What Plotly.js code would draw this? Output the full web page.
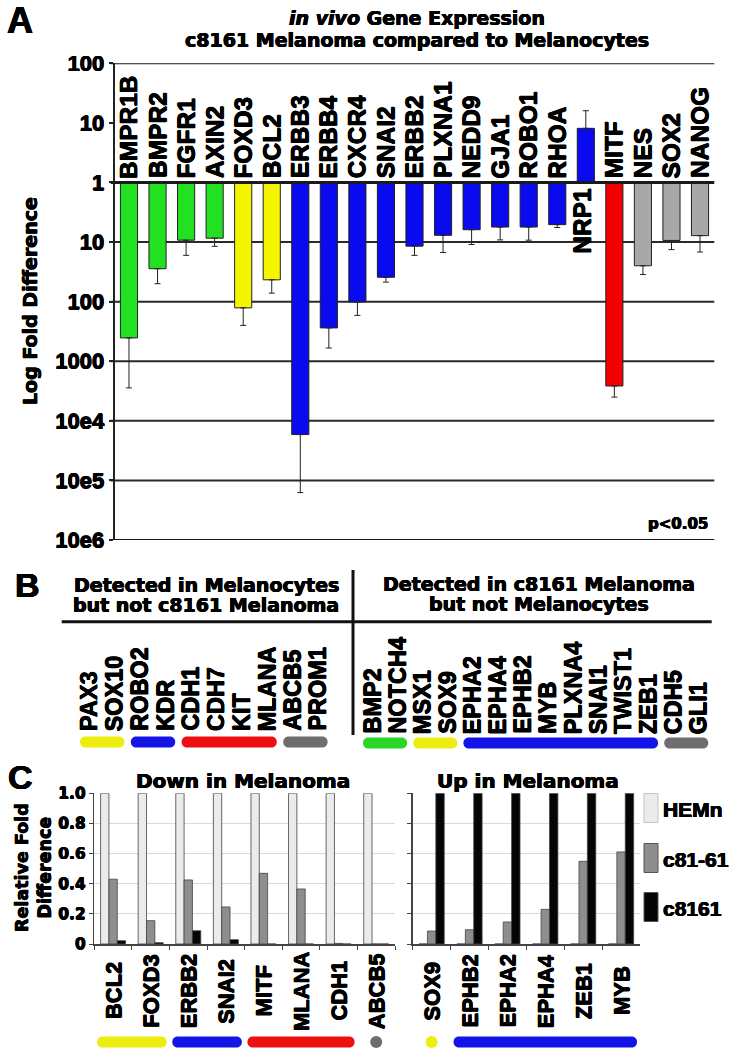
<!DOCTYPE html>
<html>
<head>
<meta charset="utf-8">
<script src="https://cdn.plot.ly/plotly-3.0.1.min.js"></script>
<style>
  html, body { margin: 0; padding: 0; background: #fff; }
  #chart { width: 730px; height: 1050px; }
</style>
</head>
<body>
<div id="chart"></div>
<script>
// panel A: in vivo expression, c8161 vs melanocytes (negative = lower in melanoma)
const genesA = ['BMPR1B', 'BMPR2', 'FGFR1', 'AXIN2', 'FOXD3', 'BCL2', 'ERBB3', 'ERBB4', 'CXCR4', 'SNAI2',
  'ERBB2', 'PLXNA1', 'NEDD9', 'GJA1', 'ROBO1', 'RHOA', 'NRP1', 'MITF', 'NES', 'SOX2', 'NANOG'];
const groupA = [0, 0, 0, 0, 1, 1, 2, 2, 2, 2, 2, 2, 2, 2, 2, 2, 2, 3, 4, 4, 4];
const foldA = [-406, -28, -9.3, -8.6, -127, -43, -17000, -276, -101, -39,
  -11.7, -7.7, -6.2, -5.6, -5.6, -5.1, 8.1, -2600, -25, -9.4, -7.8];
const errTipA = [2800, 50, 16.7, 11.8, 250, 72, 160000, 600, 170, 47,
  16.7, 15, 11, 9.2, 9.3, 5.7, 16, 4000, 35, 13.4, 14.7];
const tickValsA = [1e-6, 1e-5, 1e-4, 1e-3, 1e-2, 1e-1, 1, 10, 100];
const tickTextA = ['10e6', '10e5', '10e4', '1000', '100', '10', '1', '10', '100'];

// panel B: genes detected in only one of the two cell types
const genesMelanocyteOnly = ['PAX3', 'SOX10', 'ROBO2', 'KDR', 'CDH1', 'CDH7', 'KIT', 'MLANA', 'ABCB5', 'PROM1'];
const groupMelanocyteOnly = [1, 1, 2, 2, 3, 3, 3, 3, 4, 4];
const genesMelanomaOnly = ['BMP2', 'NOTCH4', 'MSX1', 'SOX9', 'EPHA2', 'EPHA4', 'EPHB2', 'MYB', 'PLXNA4',
  'SNAI1', 'TWIST1', 'ZEB1', 'CDH5', 'GLI1'];
const groupMelanomaOnly = [0, 0, 1, 1, 2, 2, 2, 2, 2, 2, 2, 2, 4, 4];

// panel C: relative fold difference
const genesDown = ['BCL2', 'FOXD3', 'ERBB2', 'SNAI2', 'MITF', 'MLANA', 'CDH1', 'ABCB5'];
const groupDown = [1, 1, 2, 2, 3, 3, 3, 4];
const hemnDown = [1, 1, 1, 1, 1, 1, 1, 1];
const c8161bDown = [0.43, 0.155, 0.425, 0.246, 0.469, 0.365, 0.004, 0];
const c8161Down = [0.022, 0.009, 0.088, 0.029, 0, 0, 0, 0];
const genesUp = ['SOX9', 'EPHB2', 'EPHA2', 'EPHA4', 'ZEB1', 'MYB'];
const groupUp = [1, 2, 2, 2, 2, 2];
const hemnUp = [0, 0, 0, 0, 0, 0];
const c8161bUp = [0.086, 0.095, 0.146, 0.23, 0.549, 0.611];
const c8161Up = [1, 1, 1, 1, 1, 1];
const seriesNames = ['HEMn', 'c81-61', 'c8161'];

const W = 730, H = 1050;
const px = x => x / W;
const py = y => 1 - y / H;

const palette = ['#22e022', '#f5f500', '#0a0aee', '#f20000', '#a8a8a8'];
const pillPalette = ['#2ad62a', '#eded10', '#1414e6', '#ee1010', '#6e6e6e'];
const seriesColors = ['#ebebeb', '#8e8e8e', '#050505'];
const TXT = 'DejaVu Sans, Liberation Sans, Arial, sans-serif';
const ARIAL = 'Liberation Sans, Arial, sans-serif';
// a thin shadow makes the bold face a bit heavier, like the original artwork
const HEAVY = '0.45px 0 0 #000, -0.45px 0 0 #000, 0 0.45px 0 #000, 0 -0.45px 0 #000';
const bold = (size, family) => ({ family: family || TXT, size: size, color: '#000', weight: 'bold', shadow: HEAVY });

// plot areas (pixels)
const aLeft = 114.7, aRight = 714.3, aTop = 63.3, aBottom = 540;
const cTop = 793.3, cBottom = 944;
const cLeft1 = 94.3, cRight1 = 395, cLeft2 = 412.7, cRight2 = 640;

const ratioA = foldA.map(f => (f > 0 ? f : -1 / f));
const tipA = foldA.map((f, i) => (f > 0 ? errTipA[i] : 1 / errTipA[i]));

const traces = [{
  type: 'bar',
  x: genesA,
  y: ratioA.map(r => r - 1),
  base: 1,
  width: 0.6,
  marker: { color: groupA.map(g => palette[g]), line: { color: '#222', width: 1 } },
  error_y: {
    type: 'data', symmetric: false,
    array: ratioA.map((r, i) => Math.max(tipA[i] - r, 0)),
    arrayminus: ratioA.map((r, i) => Math.max(r - tipA[i], 0)),
    thickness: 1, width: 3, color: '#222',
  },
  xaxis: 'x', yaxis: 'y', hoverinfo: 'x',
}];

const downSeries = [hemnDown, c8161bDown, c8161Down];
const upSeries = [hemnUp, c8161bUp, c8161Up];
downSeries.forEach((vals, k) => traces.push({
  type: 'bar', name: seriesNames[k], x: genesDown, y: vals,
  marker: { color: seriesColors[k], line: { color: '#444', width: 0.8 } },
  xaxis: 'x2', yaxis: 'y2', showlegend: false,
}));
upSeries.forEach((vals, k) => traces.push({
  type: 'bar', name: seriesNames[k], x: genesUp, y: vals,
  marker: { color: seriesColors[k], line: { color: '#444', width: 0.8 } },
  xaxis: 'x3', yaxis: 'y3', showlegend: false,
}));

const annotations = [];
const shapes = [];
const note = (text, x, y, font, extra) => annotations.push(Object.assign({
  text: text, x: px(x), y: py(y), xref: 'paper', yref: 'paper', showarrow: false, font: font,
  xanchor: 'center', yanchor: 'middle',
}, extra || {}));

// rounded bar used as a pathway key
const pill = (xa, xb, yc, r, color) => {
  const k = r * 4 / 3, a = xa + r, b = xb - r;
  shapes.push({
    type: 'path', xref: 'paper', yref: 'paper', fillcolor: color, line: { width: 0 },
    path: `M${px(a)},${py(yc - r)} L${px(b)},${py(yc - r)} ` +
      `C${px(b + k)},${py(yc - r)} ${px(b + k)},${py(yc + r)} ${px(b)},${py(yc + r)} ` +
      `L${px(a)},${py(yc + r)} C${px(a - k)},${py(yc + r)} ${px(a - k)},${py(yc - r)} ${px(a)},${py(yc - r)} Z`,
  });
};
const ball = (xc, yc, r, color) => shapes.push({
  type: 'circle', xref: 'paper', yref: 'paper', fillcolor: color, line: { width: 0 },
  x0: px(xc - r), x1: px(xc + r), y0: py(yc + r), y1: py(yc - r),
});
// walk runs of equal group and draw one key per run
const keyRuns = (groups, centerOf, padL, padR, yc, r) => {
  let start = 0;
  for (let i = 1; i <= groups.length; i++) {
    if (i === groups.length || groups[i] !== groups[start]) {
      const color = pillPalette[groups[start]];
      if (i - start === 1) ball(centerOf(start), yc, 6, color);
      else pill(centerOf(start) - padL, centerOf(i - 1) + padR, yc, r, color);
      start = i;
    }
  }
};

// ---- panel A ----
note('A', 20, 20, bold(36, ARIAL));
note('<i>in vivo</i> Gene Expression', 417, 18, bold(19));
note('c8161 Melanoma compared to Melanocytes', 417, 40, bold(19));
note('Log Fold Difference', 30, 301, bold(19), { textangle: -90 });
note('p<0.05', 678, 524, bold(15));

genesA.forEach((g, i) => {
  const up = ratioA[i] > 1;
  annotations.push({
    text: g, x: g, y: 0, xref: 'x', yref: 'y', showarrow: false, textangle: -90,
    xanchor: 'center', yanchor: up ? 'top' : 'bottom', yshift: up ? -4 : 2, xshift: up ? -3 : 0,
    font: bold(24.5, ARIAL),
  });
});

[1e-1, 1e-2, 1e-3, 1e-4, 1e-5].forEach(v => shapes.push({
  type: 'line', xref: 'paper', yref: 'y', x0: px(aLeft - 4), x1: px(aRight), y0: v, y1: v,
  line: { color: '#2a2a2a', width: 2 }, layer: 'below',
}));
[[100, 2], [1, 3], [1e-6, 2]].forEach(([v, w]) => shapes.push({
  type: 'line', xref: 'paper', yref: 'y', x0: px(aLeft - 4), x1: px(aRight), y0: v, y1: v,
  line: { color: '#1a1a1a', width: w },
}));

// ---- panel B ----
note('B', 27, 585, bold(34, ARIAL));
note('Detected in Melanocytes', 206, 585, bold(19));
note('but not c8161 Melanoma', 206, 605, bold(19));
note('Detected in c8161 Melanoma', 539, 584, bold(19));
note('but not Melanocytes', 539, 604, bold(19));
shapes.push({ type: 'line', xref: 'paper', yref: 'paper', x0: px(61.7), x1: px(711.7), y0: py(621.7), y1: py(621.7),
  line: { color: '#111', width: 3 } });
shapes.push({ type: 'line', xref: 'paper', yref: 'paper', x0: px(353), x1: px(353), y0: py(570), y1: py(735),
  line: { color: '#111', width: 3 } });

const bLeftX = i => 89 + 25.4 * i;
const bRightX = i => 372 + 25.1 * i;
genesMelanocyteOnly.forEach((g, i) => note(g, bLeftX(i), 733, bold(23.5, ARIAL), { textangle: -90, yanchor: 'bottom' }));
genesMelanomaOnly.forEach((g, i) => note(g, bRightX(i), 736, bold(23.5, ARIAL), { textangle: -90, yanchor: 'bottom' }));
keyRuns(groupMelanocyteOnly, bLeftX, 9, 10, 742, 5.5);
keyRuns(groupMelanomaOnly, bRightX, 9, 10, 743, 5.5);

// ---- panel C ----
note('C', 20, 777, bold(34, ARIAL));
note('Down in Melanoma', 243, 781, bold(20));
note('Up in Melanoma', 528, 781, bold(20));
note('Relative Fold<br>Difference', 33, 868, bold(17.5), { textangle: -90 });

const stepDown = (cRight1 - cLeft1) / genesDown.length;
const stepUp = (cRight2 - cLeft2) / genesUp.length;
const downX = i => cLeft1 + stepDown * (i + 0.5);
const upX = i => cLeft2 + stepUp * (i + 0.5);
genesDown.forEach((g, i) => note(g, downX(i), 991, bold(22, ARIAL), { textangle: -90 }));
genesUp.forEach((g, i) => note(g, upX(i), 991, bold(22, ARIAL), { textangle: -90 }));
keyRuns(groupDown, downX, 16, 16, 1042, 5.5);
keyRuns(groupUp, upX, 16, 16, 1042, 5.5);

// legend key
[808, 858, 907].forEach((yc, k) => {
  shapes.push({ type: 'rect', xref: 'paper', yref: 'paper', x0: px(644), x1: px(658), y0: py(yc + 14.5), y1: py(yc - 14.5),
    fillcolor: seriesColors[k], line: { color: k === 0 ? '#c4c4c4' : '#555', width: 1 } });
  note(seriesNames[k], 661, yc + 1, bold(21, ARIAL), { xanchor: 'left' });
});

const cTickVals = [0, 0.2, 0.4, 0.6, 0.8, 1];
const cTickText = ['0', '0.2', '0.4', '0.6', '0.8', '1.0'];
const cX = (l, r, y) => ({
  domain: [px(l), px(r)], anchor: y, type: 'category', showticklabels: false,
  ticks: 'outside', tickson: 'boundaries', ticklen: 4, tickcolor: '#444',
  showline: true, linecolor: '#444', linewidth: 1.5, showgrid: false, fixedrange: true,
});
const cY = (x, labels) => ({
  domain: [py(cBottom), py(cTop)], anchor: x, range: [0, 1], tickvals: cTickVals, ticktext: cTickText,
  showticklabels: labels, tickfont: bold(15.5), ticks: 'outside', ticklen: 4, tickcolor: '#444',
  showline: true, linecolor: '#444', linewidth: 1.5, showgrid: true, gridcolor: '#dadada', gridwidth: 1,
  zeroline: false, fixedrange: true,
});

const layout = {
  width: W, height: H,
  margin: { l: 0, r: 0, t: 0, b: 0 },
  paper_bgcolor: '#fff', plot_bgcolor: 'rgba(0,0,0,0)',
  showlegend: false,
  barmode: 'group', bargap: 0.335, bargroupgap: 0,
  xaxis: {
    domain: [px(aLeft), px(aRight)], anchor: 'y', type: 'category', range: [-0.5, 20.5],
    showticklabels: false, ticks: '', showline: false, showgrid: false, zeroline: false, fixedrange: true,
  },
  yaxis: {
    domain: [py(aBottom), py(aTop)], anchor: 'x', type: 'log', range: [-6, 2],
    tickvals: tickValsA, ticktext: tickTextA, tickfont: bold(22, ARIAL),
    ticks: 'outside', ticklen: 4, tickwidth: 2, tickcolor: '#222',
    showline: true, linecolor: '#222', linewidth: 2, showgrid: false, zeroline: false, fixedrange: true,
  },
  xaxis2: cX(cLeft1, cRight1, 'y2'),
  yaxis2: cY('x2', true),
  xaxis3: cX(cLeft2, cRight2, 'y3'),
  yaxis3: cY('x3', false),
  annotations: annotations,
  shapes: shapes,
};

Plotly.newPlot('chart', traces, layout, { displayModeBar: false, staticPlot: true });
</script>
</body>
</html>
